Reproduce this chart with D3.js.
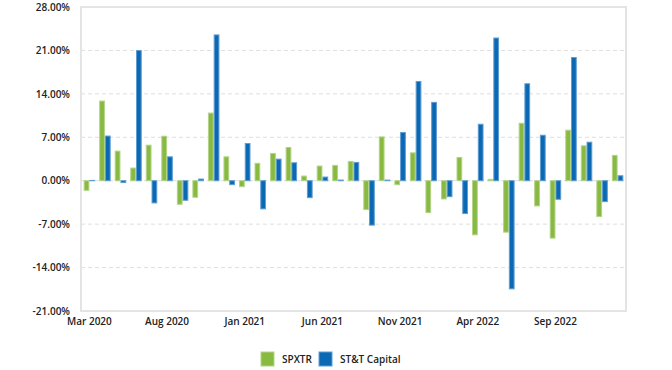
<!doctype html>
<html lang="en">
<head>
<meta charset="utf-8">
<script src="https://cdn.jsdelivr.net/npm/d3@7/dist/d3.min.js"></script>
<style>
    body { margin: 0; background: #fff; }
    text { font-family: "Open Sans", sans-serif; font-weight: 600; fill: #222; }
</style>
</head>
<body>
<div id="chart"></div>
<script>
    // monthly returns, Mar 2020 .. Jan 2023
    var months = ["Mar 2020","Apr 2020","May 2020","Jun 2020","Jul 2020","Aug 2020","Sep 2020","Oct 2020","Nov 2020","Dec 2020",
        "Jan 2021","Feb 2021","Mar 2021","Apr 2021","May 2021","Jun 2021","Jul 2021","Aug 2021","Sep 2021","Oct 2021",
        "Nov 2021","Dec 2021","Jan 2022","Feb 2022","Mar 2022","Apr 2022","May 2022","Jun 2022","Jul 2022","Aug 2022",
        "Sep 2022","Oct 2022","Nov 2022","Dec 2022","Jan 2023"];
    var spxtr = [-1.55, 12.84, 4.77, 2.04, 5.73, 7.17, -3.79, -2.67, 10.9, 3.85,
        -0.96, 2.8, 4.4, 5.36, 0.75, 2.36, 2.47, 3.11, -4.65, 7.06,
        -0.64, 4.49, -5.14, -2.94, 3.75, -8.72, 0.22, -8.29, 9.26, -4.06,
        -9.25, 8.14, 5.62, -5.78, 4.08];
    var sttCapital = [0.05, 7.2, -0.3, 20.98, -3.58, 3.85, -3.15, 0.27, 23.5, -0.64,
        6.0, -4.54, 3.48, 2.89, -2.73, 0.59, 0.11, 2.95, -7.16, 0.1,
        7.77, 16.0, 12.63, -2.57, -5.3, 9.1, 23.0, -17.43, 15.63, 7.33,
        -2.99, 19.86, 6.21, -3.37, 0.8];
    var yTicks = [-21, -14, -7, 0, 7, 14, 21, 28];
    var xTickLabels = ["Mar 2020", "Aug 2020", "Jan 2021", "Jun 2021", "Nov 2021", "Apr 2022", "Sep 2022"];
    var seriesNames = ["SPXTR", "ST&T Capital"];
    var colors = ["#88b941", "#0b68b3"];
    var strokes = ["#b3d488", "#5f9dd3"];

    var width = 672, height = 370;
    var margin = {top: 7, right: 46, bottom: 59, left: 81};
    var innerW = width - margin.left - margin.right,
        innerH = height - margin.top - margin.bottom;

    var svg = d3.select("#chart").append("svg")
        .attr("width", width)
        .attr("height", height);

    var g = svg.append("g")
        .attr("transform", "translate(" + margin.left + "," + margin.top + ")");

    var x = d3.scaleBand().domain(months).range([0, innerW])
        .paddingInner(0.26).paddingOuter(0.17);
    var x1 = d3.scaleBand().domain([0, 1]).range([0, x.bandwidth()]);
    var y = d3.scaleLinear().domain([-21, 28]).range([innerH, 0]);

    // dashed grid
    g.selectAll(".grid").data(yTicks.filter(function(d) { return d > -21 && d < 28; }))
        .enter().append("line")
        .attr("x1", 0).attr("x2", innerW)
        .attr("y1", function(d) { return y(d); })
        .attr("y2", function(d) { return y(d); })
        .attr("stroke", "#dedede")
        .attr("stroke-width", 1)
        .attr("stroke-dasharray", "4,3");

    // bars
    var rows = months.map(function(m, i) { return {m: m, v: [spxtr[i], sttCapital[i]]}; });
    var groups = g.selectAll(".grp").data(rows).enter().append("g")
        .attr("transform", function(d) { return "translate(" + x(d.m) + ",0)"; });
    groups.selectAll("rect").data(function(d) { return d.v; })
        .enter().append("rect")
        .attr("x", function(d, i) { return x1(i) + 0.5; })
        .attr("width", x1.bandwidth() - 1)
        .attr("y", function(d) { return y(Math.max(0, d)); })
        .attr("height", function(d) { return Math.abs(y(d) - y(0)); })
        .attr("fill", function(d, i) { return colors[i]; })
        .attr("stroke", function(d, i) { return strokes[i]; })
        .attr("stroke-width", 1);

    // plot frame
    g.append("rect")
        .attr("x", 0).attr("y", 0)
        .attr("width", innerW).attr("height", innerH)
        .attr("fill", "none")
        .attr("stroke", "#e4e4e4")
        .attr("stroke-width", 2);

    // y axis labels
    var yAxis = d3.axisLeft(y).tickValues(yTicks).tickSize(0).tickPadding(11)
        .tickFormat(function(d) { return d.toFixed(2) + "%"; });
    g.append("g").call(yAxis)
        .call(function(s) { s.select(".domain").remove(); })
        .selectAll("text").style("font-size", "10px").attr("fill", "#222");

    // x axis labels
    var xAxis = d3.axisBottom(x).tickValues(xTickLabels).tickSize(0).tickPadding(7);
    g.append("g").attr("transform", "translate(0," + innerH + ")").call(xAxis)
        .call(function(s) { s.select(".domain").remove(); })
        .selectAll("text").style("font-size", "10px").attr("fill", "#222");

    // legend
    var legendX = [261, 319];
    var legend = svg.append("g").selectAll("g").data(seriesNames).enter().append("g")
        .attr("transform", function(d, i) { return "translate(" + legendX[i] + ",352)"; });
    legend.append("rect")
        .attr("width", 13).attr("height", 14)
        .attr("fill", function(d, i) { return colors[i]; })
        .attr("stroke", function(d, i) { return strokes[i]; })
        .attr("stroke-width", 1);
    legend.append("text")
        .attr("x", 21).attr("y", 10.5)
        .style("font-size", "10px")
        .text(function(d) { return d; });
</script>
</body>
</html>
